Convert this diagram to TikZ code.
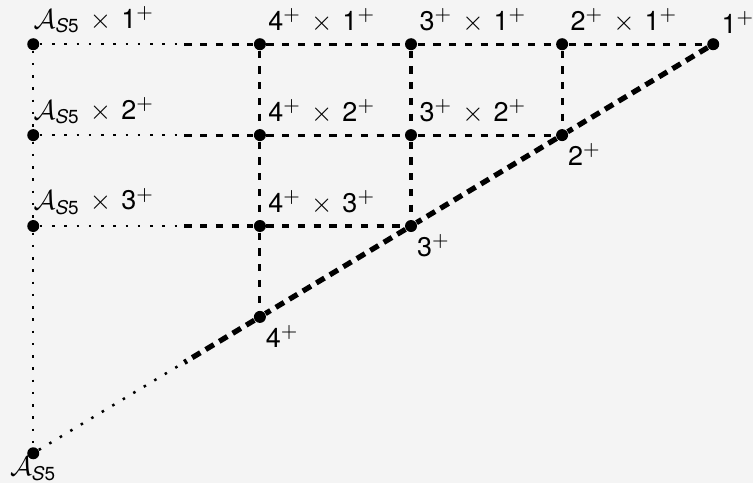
\documentclass[tikz,border=0pt]{standalone}
\usepackage{amsmath,amssymb}
\usepackage{fontspec}
\setmainfont{TeX Gyre Heros}
\usepackage{xcolor}
\usetikzlibrary{positioning}
\definecolor{bgray}{HTML}{F4F4F4}
\newcommand{\sfive}{\mathcal{A}_{\text{\itshape S}\text{5}}}
\newcommand{\prd}[2]{#1$^{+}$\hspace{4pt}$\times$\hspace{4pt}#2$^{+}$}

\begin{document}
\begin{tikzpicture}[
    x=60.44pt, y=36.36pt,
    font=\fontsize{10.8pt}{13pt}\selectfont,
    pt/.style={circle, fill=black, inner sep=0pt, minimum size=4.8pt},
    lab/.style={label={[anchor=south west, inner sep=0pt, xshift=3.2pt, yshift=1.6pt]90:#1}},
    alab/.style={label={[anchor=south west, inner sep=0pt, xshift=0pt, yshift=1.6pt]90:#1}},
    dlab/.style={label={[anchor=north west, inner sep=0pt, xshift=2.2pt, yshift=-0.6pt]-90:#1}},
    thin dash/.style={line width=1.25pt, dash pattern=on 2.9pt off 3.4pt},
    diag dash/.style={line width=2.1pt, dash pattern=on 3.8pt off 2.5pt},
    dots/.style={line width=1pt, dash pattern=on 1pt off 3.9pt}
]
\fill[bgray] (-13.3pt,-11.9pt) rectangle (287.9pt,181.3pt);
\useasboundingbox (-13.3pt,-11.9pt) rectangle (287.9pt,181.3pt);

% left column
\node[pt, label={[anchor=north, inner sep=0pt, yshift=1.2pt]-90:$\sfive$}] (a0) at (0,0) {};
\node[pt, alab={$\sfive$\hspace{4pt}$\times$\hspace{4pt}1$^{+}$}] (a1) at (0,4.5) {};
\node[pt, alab={$\sfive$\hspace{4pt}$\times$\hspace{4pt}2$^{+}$}] (a2) at (0,3.5) {};
\node[pt, alab={$\sfive$\hspace{4pt}$\times$\hspace{4pt}3$^{+}$}] (a3) at (0,2.5) {};

% diagonal
\node[pt, lab={1$^{+}$}] (d1) at (4.5,4.5) {};
\node[pt, dlab={2$^{+}$}] (d2) at (3.5,3.5) {};
\node[pt, dlab={3$^{+}$}] (d3) at (2.5,2.5) {};
\node[pt, dlab={4$^{+}$}] (d4) at (1.5,1.5) {};

% products
\node[pt, lab={\prd{4}{1}}] (x41) at (1.5,4.5) {};
\node[pt, lab={\prd{3}{1}}] (x31) at (2.5,4.5) {};
\node[pt, lab={\prd{2}{1}}] (x21) at (3.5,4.5) {};
\node[pt, lab={\prd{4}{2}}] (x42) at (1.5,3.5) {};
\node[pt, lab={\prd{3}{2}}] (x32) at (2.5,3.5) {};
\node[pt, lab={\prd{4}{3}}] (x43) at (1.5,2.5) {};

\coordinate (s0) at (1,1);
\coordinate (s1) at (1,4.5);
\coordinate (s2) at (1,3.5);
\coordinate (s3) at (1,2.5);

% dotted parts
\draw[dots] (a1) -- (a2) -- (a3) -- (a0);
\draw[dots] (a1) -- (s1);
\draw[dots] (a2) -- (s2);
\draw[dots] (a3) -- (s3);
\draw[dots] (a0) -- (s0);

% grid
\draw[thin dash] (s1) -- (x41) -- (x31) -- (x21) -- (d1);
\draw[thin dash] (s2) -- (x42) -- (x32) -- (d2);
\draw[thin dash] (s3) -- (x43) -- (d3);
\draw[thin dash] (x41) -- (x42) -- (x43) -- (d4);
\draw[thin dash] (x31) -- (x32) -- (d3);
\draw[thin dash] (x21) -- (d2);

% diagonal line
\draw[diag dash] (d1) -- (d2) -- (d3) -- (d4) -- (s0);
\end{tikzpicture}
\end{document}
